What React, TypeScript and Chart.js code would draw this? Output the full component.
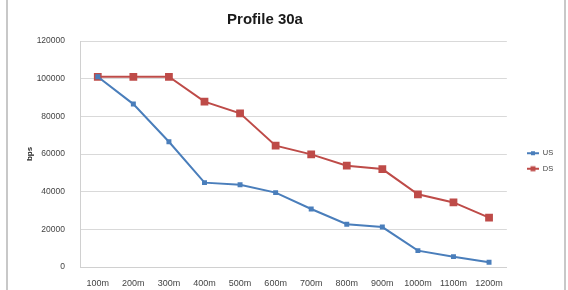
import React, { useEffect, useRef } from "react";
import { Chart, registerables } from "chart.js";

Chart.register(...registerables);

const categories = ["100m", "200m", "300m", "400m", "500m", "600m", "700m", "800m", "900m", "1000m", "1100m", "1200m"];
const usValues = [101000, 86500, 66500, 44800, 43700, 39500, 30800, 22700, 21200, 8700, 5500, 2500];
const dsValues = [101000, 101000, 101000, 87800, 81600, 64400, 59800, 53800, 52000, 38600, 34300, 26200];
const yTicks = [0, 20000, 40000, 60000, 80000, 100000, 120000];

const US_COLOR = "#4a7ebb";
const DS_COLOR = "#be4b48";

function makeLegendIcon(color: string, size: number) {
  const c = document.createElement("canvas");
  c.width = 12;
  c.height = 8;
  const ctx = c.getContext("2d")!;
  ctx.strokeStyle = color;
  ctx.lineWidth = 2;
  ctx.beginPath();
  ctx.moveTo(0, 4);
  ctx.lineTo(12, 4);
  ctx.stroke();
  ctx.fillStyle = color;
  ctx.fillRect(6 - size / 2, 4 - size / 2, size, size);
  return c;
}

const framePlugin = {
  id: "frame",
  beforeDraw(chart: any) {
    const ctx = chart.ctx;
    ctx.save();
    ctx.fillStyle = "#ffffff";
    ctx.fillRect(0, 0, chart.width, chart.height);
    ctx.strokeStyle = "#c8c8c8";
    ctx.lineWidth = 2;
    ctx.beginPath();
    ctx.moveTo(7, 0);
    ctx.lineTo(7, chart.height);
    ctx.moveTo(565, 0);
    ctx.lineTo(565, chart.height);
    ctx.stroke();
    ctx.restore();
  },
  afterLayout(chart: any) {
    const t = chart.titleBlock;
    if (t) {
      const d = 265 - (t.left + t.right) / 2;
      t.left += d;
      t.right += d;
    }
    const l = chart.legend;
    if (l) {
      const dx = 519 - l.left;
      l.left += dx;
      l.right += dx;
      const dy = 161 - (l.top + l.bottom) / 2;
      l.top += dy;
      l.bottom += dy;
    }
  },
};

export default function App() {
  const ref = useRef<HTMLCanvasElement | null>(null);
  useEffect(() => {
    if (!ref.current) return;
    const chart = new Chart(ref.current, {
      type: "line",
      data: {
        labels: categories,
        datasets: [
          {
            label: "US",
            data: usValues,
            borderColor: US_COLOR,
            backgroundColor: US_COLOR,
            borderWidth: 2,
            pointStyle: "rect",
            pointRadius: 3.5,
            pointBorderWidth: 0,
            tension: 0,
          },
          {
            label: "DS",
            data: dsValues,
            borderColor: DS_COLOR,
            backgroundColor: DS_COLOR,
            borderWidth: 2,
            pointStyle: "rect",
            pointRadius: 5.5,
            pointBorderWidth: 0,
            tension: 0,
          },
        ],
      },
      options: {
        animation: false,
        responsive: true,
        maintainAspectRatio: false,
        layout: { padding: { left: 14, right: 17, top: 0, bottom: 0 } },
        plugins: {
          title: {
            display: true,
            text: "Profile 30a",
            color: "#1a1a1a",
            font: { family: "Liberation Sans", size: 15, weight: "bold" },
            padding: { top: 11, bottom: 12 },
          },
          legend: {
            position: "right",
            labels: {
              usePointStyle: true,
              pointStyleWidth: 12,
              generateLabels: (chart: any) =>
                chart.data.datasets.map((ds: any, i: number) => ({
                  text: ds.label,
                  pointStyle: makeLegendIcon(ds.borderColor, i === 0 ? 4 : 5),
                  fillStyle: ds.borderColor,
                  strokeStyle: ds.borderColor,
                  lineWidth: 0,
                  hidden: false,
                  datasetIndex: i,
                  fontColor: "#444",
                })),
              color: "#444",
              font: { family: "Liberation Sans", size: 7.5 },
              padding: 8,
            },
          },
          tooltip: { enabled: false },
        },
        scales: {
          x: {
            offset: true,
            grid: { display: false, drawTicks: false },
            border: { display: true, color: "#d0d0d0", width: 1 },
            ticks: {
              color: "#444",
              font: { family: "Liberation Sans", size: 9 },
              maxRotation: 0,
              autoSkip: false,
              padding: 11,
            },
            afterFit: (scale: any) => {
              scale.height = 23;
            },
          },
          y: {
            min: 0,
            max: 120000,
            afterBuildTicks: (axis: any) => {
              axis.ticks = yTicks.map((v) => ({ value: v }));
            },
            grid: { color: "#d9d9d9", lineWidth: 1, drawTicks: false },
            border: { display: true, color: "#d0d0d0", width: 1 },
            ticks: {
              color: "#444",
              font: { family: "Liberation Sans", size: 8.5 },
              padding: 15,
              callback: (v: any) => String(v),
            },
            title: {
              display: true,
              text: "bps",
              color: "#222",
              font: { family: "Liberation Sans", size: 8, weight: "bold" },
              padding: { top: 11, bottom: 0 },
            },
            afterFit: (scale: any) => {
              scale.width = 66;
            },
          },
        },
      },
      plugins: [framePlugin],
    });
    return () => chart.destroy();
  }, []);
  return (
    <div style={{ position: "absolute", left: 0, top: 0, width: 568, height: 290 }}>
      <canvas ref={ref} />
    </div>
  );
}
